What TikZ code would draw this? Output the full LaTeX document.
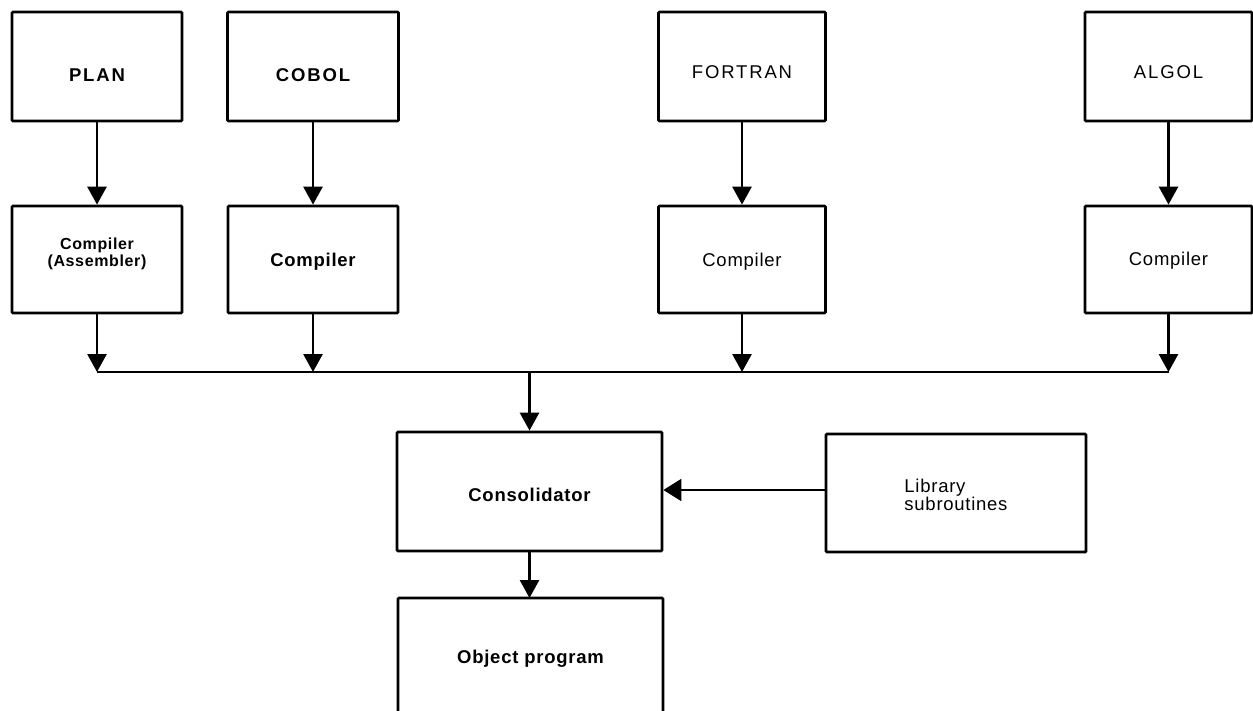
\documentclass[tikz,border=0pt]{standalone}
\usepackage{fontspec}
\setmainfont{Liberation Sans}
% wide-set faces for capitals and for mixed-case labels
\newfontfamily\capface[LetterSpace=10]{Liberation Sans}
\newfontfamily\lowface[LetterSpace=4]{Liberation Sans}
\usetikzlibrary{arrows.meta}
\begin{document}
\begin{tikzpicture}[x=1pt,y=1pt,
  box/.style={draw, line width=2.8pt, rounded corners=1pt, inner sep=0pt},
  lab/.style={inner sep=0pt, align=center, font=\lowface\fontsize{18.5}{18}\selectfont},
  boldlab/.style={inner sep=0pt, align=center, font=\lowface\bfseries\fontsize{18.5}{18}\selectfont},
  caplab/.style={inner sep=0pt, align=center, font=\capface\fontsize{18.5}{18}\selectfont},
  boldcaplab/.style={inner sep=0pt, align=center, font=\capface\bfseries\fontsize{18.5}{18}\selectfont},
  conn/.style={line width=2.8pt},
  arr/.style={conn, -{Triangle[length=18pt,width=19pt]}},
  thinarr/.style={line width=2.2pt, -{Triangle[length=18pt,width=22pt]}}]
\useasboundingbox (0,0) rectangle (1253,-710);

% source languages
\node[box, minimum width=170pt, minimum height=109pt] (plan)    at (97,-66.5)    {};
\node[box, minimum width=171pt, minimum height=109pt] (cobol)   at (313,-66.5)   {};
\node[box, minimum width=167pt, minimum height=109pt] (fortran) at (742,-66.5)   {};
\node[box, minimum width=167pt, minimum height=109pt] (algol)   at (1168.5,-66.5) {};
\node[boldcaplab] (plan-t)  at ([yshift=-9pt]plan.center)  {PLAN};
\node[boldcaplab] (cobol-t) at ([yshift=-9pt]cobol.center) {COBOL};
\node[caplab] (fortran-t) at ([yshift=-6pt]fortran.center) {FORTRAN};
\node[caplab] (algol-t)   at ([yshift=-6pt]algol.center)   {ALGOL};

% translators
\node[box, minimum width=170pt, minimum height=107pt] (cplan)    at (97,-259.5)    {};
\node[box, minimum width=170pt, minimum height=107pt] (ccobol)   at (313,-259.5)   {};
\node[box, minimum width=167pt, minimum height=107pt] (cfortran) at (742,-259.5)   {};
\node[box, minimum width=167pt, minimum height=107pt] (calgol)   at (1168.5,-259.5) {};
\node[boldlab, font=\lowface\bfseries\fontsize{16}{17}\selectfont] (cplan-t) at ([yshift=6pt]cplan.center) {Compiler\\(Assembler)};
\node[boldlab] (ccobol-t)   at ([yshift=-2pt]ccobol.center)   {Compiler};
\node[lab]     (cfortran-t) at ([yshift=-2pt]cfortran.center) {Compiler};
\node[lab]     (calgol-t)   at ([yshift=-1pt]calgol.center)   {Compiler};

% consolidation stage
\node[box, minimum width=265pt, minimum height=119pt] (cons) at (529.5,-491.5) {};
\node[boldlab] (cons-t) at ([yshift=-3pt]cons.center) {Consolidator};
\node[box, minimum width=260pt, minimum height=118pt] (lib) at (956,-493) {};
\node[lab, align=left] (lib-t) at ([yshift=-2pt]lib.center) {Library\\subroutines};

% object program, open at the foot
\coordinate (obj-sw) at (398,-714);
\coordinate (obj-nw) at (398,-598);
\coordinate (obj-ne) at (663,-598);
\coordinate (obj-se) at (663,-714);
\draw[line width=2.8pt, rounded corners=1pt] (obj-sw) -- (obj-nw) -- (obj-ne) -- (obj-se);
\node[boldlab] (obj-t) at (530.5,-659) {Object program};

% connectors
\draw[arr] (plan.south)    -- (cplan.north);
\draw[arr] (cobol.south)   -- (ccobol.north);
\draw[arr] (fortran.south) -- (cfortran.north);
\draw[arr] (algol.south)   -- (calgol.north);

\coordinate (busy) at (0,-372);
\draw[conn] (cplan.south |- busy) -- (calgol.south |- busy);
\draw[arr] (cplan.south)    -- (cplan.south |- busy);
\draw[arr] (ccobol.south)   -- (ccobol.south |- busy);
\draw[arr] (cfortran.south) -- (cfortran.south |- busy);
\draw[arr] (calgol.south)   -- (calgol.south |- busy);
\draw[arr] (cons.north |- busy) -- (cons.north);

\draw[thinarr] ([yshift=3pt]lib.west) -- ([yshift=3pt]lib.west -| cons.east);
\draw[arr] (cons.south) -- (obj-nw -| cons.south);
\end{tikzpicture}
\end{document}
